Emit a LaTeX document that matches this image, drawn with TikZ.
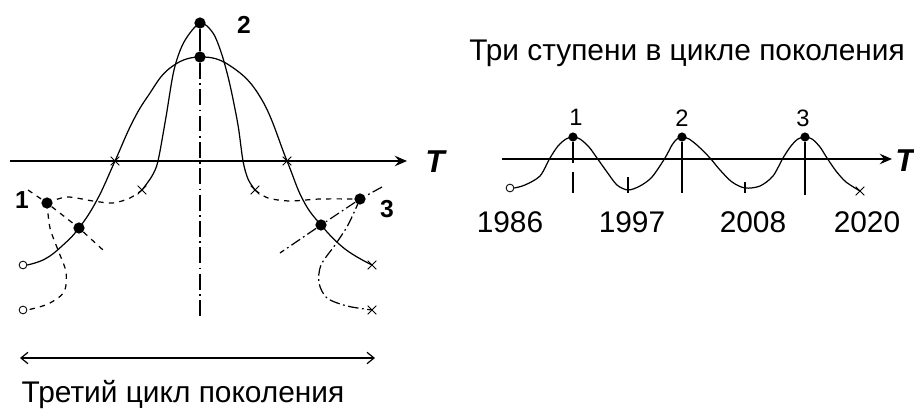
\documentclass[tikz,border=0pt]{standalone}
\usepackage{fontspec}
\setmainfont{Liberation Sans}
\usetikzlibrary{arrows.meta, positioning, shapes.misc}

\begin{document}
\begin{tikzpicture}[
      x=0.02cm, y=-0.02cm,
      every node/.style={font=\fontsize{17}{20}\selectfont},
      dot/.style={circle, fill, inner sep=0pt, minimum size=6.4pt},
      smalldot/.style={circle, fill, inner sep=0pt, minimum size=5.2pt},
      ring/.style={circle, draw, line width=0.5pt, inner sep=0pt, minimum size=4.4pt},
      xmark/.style={cross out, draw, line width=0.55pt, inner sep=0pt, minimum size=4.4pt},
      num/.style={font=\fontsize{14}{16}\selectfont\bfseries},
      peaknum/.style={font=\fontsize{13.5}{15}\selectfont},
      tlabel/.style={font=\fontsize{18}{20}\selectfont\bfseries\itshape},
      axis/.style={line width=0.8pt, -{Stealth[length=7pt, width=6pt, inset=2.5pt]}},
      curve/.style={line width=0.7pt},
      dashdot/.style={curve, dash pattern=on 6pt off 2pt on 1pt off 2pt},
      span/.style={curve, {Straight Barb[length=4pt, width=6.5pt]}-{Straight Barb[length=4pt, width=6.5pt]}}
    ]
      \useasboundingbox (0,0) rectangle (914,415);

      % left: third generation cycle
      \coordinate (ax0) at (10,161);
      \coordinate (ax1) at (407,161);
      \draw[axis] (ax0) -- (ax1);
      \node[tlabel] (tl) at (435,162) {T};

      \node[dot] (top) at (200,23) {};
      \node[dot] (peak) at (200,57) {};
      \node[dot] (p1) at (47,203) {};
      \node[dot] (q1) at (79,228) {};
      \node[dot] (p3) at (360,199) {};
      \node[dot] (q3) at (321,225) {};
      \node[ring] (s1) at (23,265) {};
      \node[ring] (s2) at (23,310) {};
      \node[xmark] (c1) at (115,161) {};
      \node[xmark] (c2) at (287,161) {};
      \node[xmark] (c3) at (142,190) {};
      \node[xmark] (c4) at (255,190) {};
      \node[xmark] (e1) at (372,265) {};
      \node[xmark] (e2) at (372,310) {};
      \node[num] (n1) at (22,200) {1};
      \node[num] (n2) at (244,25) {2};
      \node[num] (n3) at (387,209) {3};

      \draw[curve] plot[smooth, tension=0.7] coordinates {(s1.east) (45,259) (62,246) (q1) (97,200) (c1)
        (132,123) (148,96) (170,68) (peak) (232,67) (262,100) (c2) (303,200) (q3) (345,249) (e1)};
      \draw[curve, dashed] plot[smooth] coordinates {(p1) (67,197) (93,201) (113,203) (130,198) (c3)};
      \draw[curve] plot[smooth] coordinates {(c3) (152,176) (158,161) (166,117) (174,70) (184,42) (top)
        (213,33) (222,55) (230,85) (238,125) (243,161) (248,179) (c4)};
      \draw[curve, dashed] plot[smooth] coordinates {(c4) (268,198) (290,201) (320,199) (p3)};
      \draw[curve, dashed] plot[smooth] coordinates {(p1) (50,228) (58,250) (66,272) (64,292) (48,304) (s2.east)};
      \draw[dashdot] plot[smooth] coordinates {(p3) (348,225) (335,245) (321,265) (319,283) (327,298) (347,306) (e2)};

      \coordinate (l1a) at (28,190);
      \coordinate (l1b) at (103,250);
      \draw[curve, dashed] (l1a) -- (p1) -- (q1) -- (l1b);
      \coordinate (l3a) at (382,187);
      \coordinate (l3b) at (280,253);
      \draw[dashdot] (l3a) -- (p3) -- (q3) -- (l3b);

      \coordinate (vbot) at (200,320);
      \draw[curve] (top) -- (peak);
      \draw[curve, dash pattern=on 9pt off 2.5pt on 1pt off 2.5pt] (peak) -- (vbot);

      \coordinate (da) at (20,358);
      \coordinate (db) at (375,358);
      \draw[span] (da) -- (db);
      \node (cap1) at (183,395) {Третий цикл поколения};

      % right: three steps
      \node[anchor=east] (cap2) at (911,53) {Три ступени в цикле поколения};
      \coordinate (bx0) at (502,159);
      \coordinate (bx1) at (892,159);
      \draw[axis] (bx0) -- (bx1);
      \node[tlabel] (tr) at (905,161) {T};

      \node[ring] (r0) at (510,188) {};
      \node[smalldot] (k1) at (573,137) {};
      \node[smalldot] (k2) at (682,137) {};
      \node[smalldot] (k3) at (805,137) {};
      \node[xmark] (r4) at (860,191) {};
      \node[peaknum] (m1) at (576,117) {1};
      \node[peaknum] (m2) at (682,118) {2};
      \node[peaknum] (m3) at (803,118) {3};

      \draw[curve] plot[smooth] coordinates {(r0.east) (525,185) (540,176) (550,158) (558,146) (566,139) (k1)
        (580,139) (589,147) (597,158) (607,172) (617,185) (628,190) (640,186) (652,177) (665,158) (672,145)
        (677,139) (k2) (689,139) (698,146) (710,158) (720,170) (732,182) (745,188) (760,186) (773,176)
        (783,158) (791,146) (798,139) (k3) (812,139) (820,147) (827,158) (836,171) (846,182) (r4)};

      \coordinate (k1b) at (573,193);
      \coordinate (k2b) at (682,193);
      \coordinate (k3b) at (805,195);
      \draw[curve, dash pattern=on 12pt off 5pt] (k1) -- (k1b);
      \draw[curve] (k2) -- (k2b);
      \draw[curve] (k3) -- (k3b);
      \coordinate (t1a) at (628,177);
      \coordinate (t1b) at (628,193);
      \coordinate (t2a) at (745,182);
      \coordinate (t2b) at (745,193);
      \draw[curve] (t1a) -- (t1b);
      \draw[curve] (t2a) -- (t2b);

      \node (y1) at (510,222) {1986};
      \node (y2) at (632,222) {1997};
      \node (y3) at (753,222) {2008};
      \node (y4) at (867,222) {2020};
    \end{tikzpicture}
\end{document}
